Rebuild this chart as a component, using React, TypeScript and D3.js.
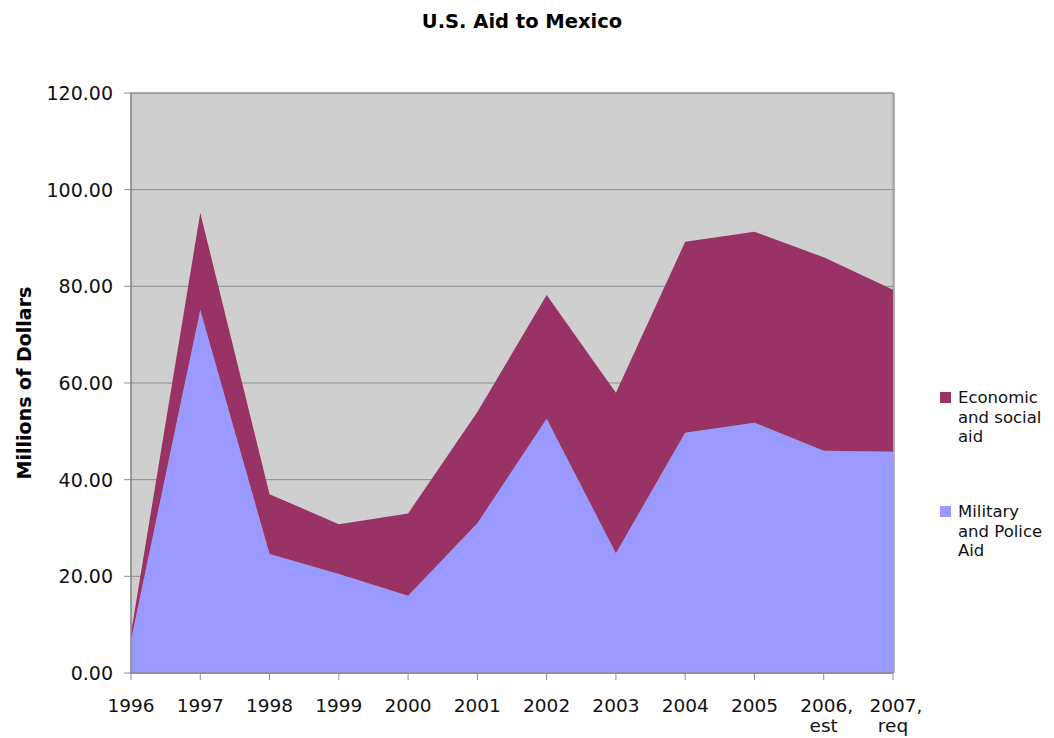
import React from 'react';
import * as d3 from 'd3';

const years = ['1996', '1997', '1998', '1999', '2000', '2001', '2002', '2003', '2004', '2005', '2006, est', '2007, req'];
const military = [6.8, 75.1, 24.6, 20.5, 16.0, 31.0, 52.6, 24.8, 49.7, 51.8, 46.0, 45.8];
const economic = [1.5, 20.1, 12.4, 10.3, 17.0, 23.0, 25.6, 33.2, 39.5, 39.5, 40.0, 33.5];
const yTicks = [0, 20, 40, 60, 80, 100, 120];

export default function App() {
  const width = 1054, height = 738;
  const left = 131, right = 893, top = 93, bottom = 673;
  const font = 'Verdana, "DejaVu Sans", sans-serif';

  const x = d3.scalePoint<number>().domain(d3.range(years.length)).range([left, right]);
  const y = d3.scaleLinear().domain([0, 120]).range([bottom, top]);

  const milArea = d3.area<number>()
    .x((d, i) => x(i)!)
    .y0(() => y(0))
    .y1((d) => y(d));
  const ecoArea = d3.area<number>()
    .x((d, i) => x(i)!)
    .y0((d, i) => y(military[i]))
    .y1((d, i) => y(military[i] + d));

  // legend order matches the reference: top series first
  const legend = [
    { color: '#993366', lines: ['Economic', 'and social', 'aid'], y: 392 },
    { color: '#9999ff', lines: ['Military', 'and Police', 'Aid'], y: 506 },
  ];

  return (
    <svg width={width} height={height} style={{ position: 'absolute', left: 0, top: 0, background: '#fff' }}>
      <text x={522} y={28} textAnchor="middle" fontFamily={font} fontWeight="bold" fontSize={19.5}>U.S. Aid to Mexico</text>
      <rect x={left} y={top} width={right - left} height={bottom - top} fill="#cfcfcf" stroke="#9a9a9a" />
      {yTicks.map((t) => (
        <g key={t}>
          <line x1={left} x2={right} y1={y(t)} y2={y(t)} stroke="#8c8c8c" strokeWidth={1} />
          <line x1={left - 7} x2={left} y1={y(t)} y2={y(t)} stroke="#8c8c8c" />
          <text x={113} y={y(t) + 7} textAnchor="end" fontFamily={font} fontSize={19} fill="#111">{t.toFixed(2)}</text>
        </g>
      ))}
      <path d={milArea(military)!} fill="#9999ff" />
      <path d={ecoArea(economic)!} fill="#993366" />
      <line x1={left} x2={left} y1={top} y2={bottom} stroke="#8c8c8c" strokeWidth={1.5} />
      <line x1={right + 1} x2={right + 1} y1={top} y2={bottom} stroke="#9a9a9a" strokeWidth={1.5} />
      <line x1={left} x2={right} y1={bottom} y2={bottom} stroke="#8c8c8c" strokeWidth={1.5} />
      {years.map((yr, i) => {
        const parts = yr.split(' ');
        return (
          <g key={yr}>
            <line x1={x(i)!} x2={x(i)!} y1={bottom} y2={bottom + 7} stroke="#8c8c8c" />
            <text x={x(i)!} y={712} textAnchor="middle" fontFamily={font} fontSize={18.5} fill="#111">
              {parts.map((p, j) => (
                <tspan key={j} x={x(i)! + (j === 0 && parts.length > 1 ? 3 : 0)} dy={j === 0 ? 0 : 20}>{p}</tspan>
              ))}
            </text>
          </g>
        );
      })}
      <text transform={`translate(31,383) rotate(-90)`} textAnchor="middle" fontFamily={font} fontWeight="bold" fontSize={19}>Millions of Dollars</text>
      {legend.map((l) => (
        <g key={l.color}>
          <rect x={940} y={l.y} width={11} height={11} fill={l.color} />
          {l.lines.map((ln, j) => (
            <text key={j} x={958} y={l.y + 11 + j * 19.5} fontFamily={font} fontSize={16.5} fill="#111">{ln}</text>
          ))}
        </g>
      ))}
    </svg>
  );
}
